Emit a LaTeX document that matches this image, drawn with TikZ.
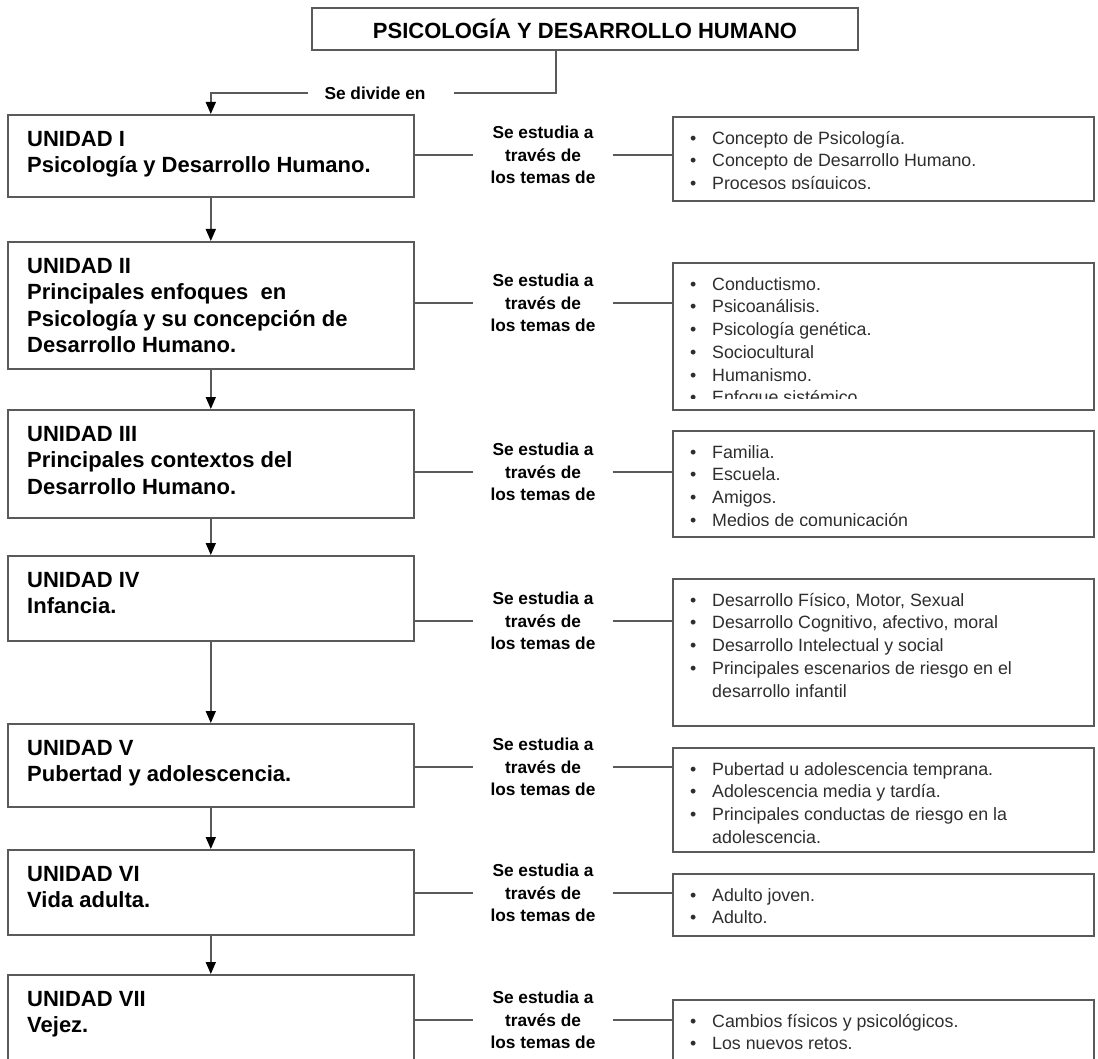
\documentclass[tikz,border=0pt]{standalone}
\usepackage{fontspec}
\setmainfont{Liberation Sans}
\usetikzlibrary{arrows.meta}
\definecolor{ln}{HTML}{5A5A5A}
\definecolor{itx}{HTML}{2E2E2E}
\newcommand\fl{\rule{0pt}{20pt}}
\newcommand\fli{\rule{0pt}{16pt}}
\newcommand\itm{\makebox[24pt][l]{\hspace{2pt}•}}
\newcommand\itc{\makebox[24pt][l]{}}
\newcommand\unitbox[4]{%
  \pgfmathsetmacro\bh{#3-#2}
  \node[ubox, minimum height=\bh pt] (#1) at (7,-#2) {};
  \node[utext] (#1t) at (27,{-#2-12}) {\fl #4};
}
\newcommand\topicbox[5][11]{%
  \pgfmathsetmacro\bh{#4-#3}
  \node[tbox, minimum height=\bh pt] (#2) at (672,-#3) {};
  \begin{scope}
    \clip (672,-#3) rectangle (1093,{-#4+#1});
    \node[ttext] (#2t) at (688,{-#3-12}) {\fli #5};
  \end{scope}
}
\begin{document}
\begin{tikzpicture}[x=1pt,y=1pt,
  ubox/.style={draw=ln, line width=1.6pt, fill=white, inner sep=0pt, minimum width=406pt, anchor=north west},
  tbox/.style={draw=ln, line width=1.6pt, fill=white, inner sep=0pt, minimum width=421pt, anchor=north west},
  utext/.style={anchor=north west, inner sep=0pt, align=left, font=\fontsize{22}{26.5}\selectfont\bfseries},
  ttext/.style={anchor=north west, inner sep=0pt, align=left, text=itx, font=\fontsize{17.8}{22.7}\selectfont},
  lbl/.style={inner xsep=17pt, inner ysep=0pt, align=center, font=\fontsize{17.3}{22.5}\selectfont\bfseries},
  conn/.style={draw=ln, line width=1.6pt},
  arr/.style={draw=ln, line width=1.6pt, -{Triangle[length=12pt,width=10pt,color=black]}},
  titlebox/.style={draw=ln, line width=1.6pt, fill=white, inner sep=0pt, minimum width=546pt, minimum height=42pt, font=\fontsize{22}{26}\selectfont\bfseries}
]
\useasboundingbox (0,0) rectangle (1098,-1059);
\fill[white] (0,0) rectangle (1098,-1059);
\clip (0,0) rectangle (1098,-1059);

% title
\node[titlebox] (title) at (585,-29) {PSICOLOGÍA Y DESARROLLO HUMANO};

% units
\unitbox{u1}{114}{196}{UNIDAD I\\Psicología y Desarrollo Humano.}
\unitbox{u2}{241}{368}{UNIDAD II\\Principales enfoques \ en\\Psicología y su concepción de\\Desarrollo Humano.}
\unitbox{u3}{409}{517}{UNIDAD III\\Principales contextos del\\Desarrollo Humano.}
\unitbox{u4}{555}{640}{UNIDAD IV\\Infancia.}
\unitbox{u5}{723}{806}{UNIDAD V\\Pubertad y adolescencia.}
\unitbox{u6}{849}{934}{UNIDAD VI\\Vida adulta.}
\unitbox{u7}{974}{1085}{UNIDAD VII\\Vejez.}

% topics
\topicbox{r1}{116}{200}{\itm Concepto de Psicología.\\\itm Concepto de Desarrollo Humano.\\\itm Procesos psíquicos.}
\topicbox{r2}{262}{409}{\itm Conductismo.\\\itm Psicoanálisis.\\\itm Psicología genética.\\\itm Sociocultural\\\itm Humanismo.\\\itm Enfoque sistémico}
\topicbox{r3}{430}{536}{\itm Familia.\\\itm Escuela.\\\itm Amigos.\\\itm Medios de comunicación}
\topicbox[1]{r4}{578}{725}{\itm Desarrollo Físico, Motor, Sexual\\\itm Desarrollo Cognitivo, afectivo, moral\\\itm Desarrollo Intelectual y social\\\itm Principales escenarios de riesgo en el\\\itc desarrollo infantil}
\topicbox[1]{r5}{747}{851}{\itm Pubertad u adolescencia temprana.\\\itm Adolescencia media y tardía.\\\itm Principales conductas de riesgo en la\\\itc adolescencia.}
\topicbox[1]{r6}{873}{935}{\itm Adulto joven.\\\itm Adulto.}
\topicbox[1]{r7}{999}{1085}{\itm Cambios físicos y psicológicos.\\\itm Los nuevos retos.}

% top connector
\node[lbl, inner xsep=0pt] (div) at (375,-93) {Se divide en};
\coordinate (tj) at (556,-93);
\coordinate (dR) at (454,-93);
\coordinate (dL) at (308,-93);
\draw[conn] (title.south -| tj) -- (tj) -- (dR);
\draw[arr] (dL) -- (dL -| u1.north) -- (u1.north);

% unit arrows
\draw[arr] (u1.south) -- (u2.north);
\draw[arr] (u2.south) -- (u3.north);
\draw[arr] (u3.south) -- (u4.north);
\draw[arr] (u4.south) -- (u5.north);
\draw[arr] (u5.south) -- (u6.north);
\draw[arr] (u6.south) -- (u7.north);

% labels and connectors
\foreach \i/\y in {1/155,2/303,3/472,4/621,5/767,6/893,7/1020}{
  \node[lbl] (l\i) at (543,-\y) {Se estudia a\\través de\\los temas de};
  \draw[conn] (u\i.east |- l\i.center) -- (l\i.west);
  \draw[conn] (l\i.east) -- (r\i.west |- l\i.center);
}
\end{tikzpicture}
\end{document}
